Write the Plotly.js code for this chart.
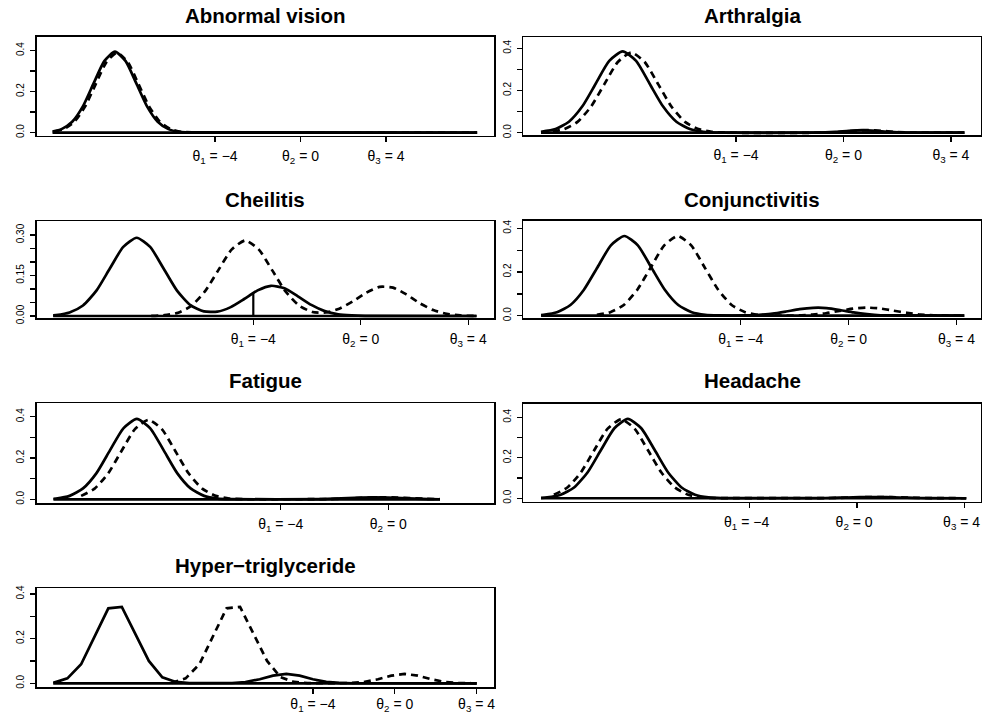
<!DOCTYPE html>
<html>
<head>
<meta charset="utf-8">
<script src="https://cdn.plot.ly/plotly-3.0.1.min.js"></script>
<style>
  html, body { margin: 0; padding: 0; background: #fff; }
  #chart { width: 982px; height: 714px; }
</style>
</head>
<body>
<div id="chart"></div>
<script>
// Panel titles
const panelTitles = ['Abnormal vision', 'Arthralgia', 'Cheilitis', 'Conjunctivitis',
                     'Fatigue', 'Headache', 'Hyper\u2212triglyceride'];

// Tick positions and labels on the latent scale
const thetaTickVals = [-4, 0, 4];
const thetaTickText = ['\u03b8<sub>1</sub> = \u22124', '\u03b8<sub>2</sub> = 0', '\u03b8<sub>3</sub> = 4'];
const densTickVals04 = [0, 0.2, 0.4];
const densTickText04 = ['0.0', '0.2', '0.4'];
const densMinorVals04 = [0.1, 0.3];
const densTickVals03 = [0, 0.15, 0.30];
const densTickText03 = ['0.00', '0.15', '0.30'];
const densMinorVals03 = [0.05, 0.10, 0.20, 0.25];

// Abnormal vision
const abnSolidX = [-11.6, -11.18, -10.68, -10.18, -9.68, -9.18, -8.68, -8.18, -7.68, -7.18, -6.68, -6.18, -5.68, -5.18, 8.26];
const abnSolidY = [0.005, 0.017, 0.053, 0.128, 0.240, 0.349, 0.395, 0.349, 0.240, 0.128, 0.053, 0.017, 0.004, 0.001, 0];
const abnDashX  = [-11.5, -11.08, -10.58, -10.08, -9.58, -9.08, -8.58, -8.08, -7.58, -7.08, -6.58, -6.08, -5.58, -5.08, 8.26];
const abnDashY  = [0.005, 0.017, 0.053, 0.127, 0.237, 0.344, 0.390, 0.344, 0.237, 0.127, 0.053, 0.017, 0.004, 0.001, 0];

// Arthralgia
const artSolidX = [-11.26, -10.72, -10.22, -9.72, -9.22, -8.72, -8.22, -7.72, -7.22, -6.72, -6.22, -5.72, -5.22, -4.5,
                   -1.0, -0.3, 0.2, 0.7, 1.2, 1.7, 2.4, 4.5];
const artSolidY = [0.004, 0.017, 0.052, 0.125, 0.233, 0.340, 0.385, 0.340, 0.233, 0.125, 0.052, 0.017, 0.004, 0,
                   0, 0.004, 0.009, 0.012, 0.009, 0.004, 0.0005, 0];
const artDashX  = [-11.26, -10.9, -10.4, -9.9, -9.4, -8.9, -8.4, -7.9, -7.4, -6.9, -6.4, -5.9, -5.4, -4.9, -4.2,
                   -0.8, -0.1, 0.4, 0.9, 1.4, 1.9, 2.6, 4.5];
const artDashY  = [0.001, 0.004, 0.017, 0.051, 0.123, 0.230, 0.335, 0.380, 0.335, 0.230, 0.123, 0.051, 0.017, 0.004, 0,
                   0, 0.004, 0.009, 0.012, 0.009, 0.004, 0.0005, 0];

// Cheilitis
const cheSolidX = [-11.45, -11.34, -10.84, -10.34, -9.84, -9.34, -8.84, -8.34, -7.84, -7.34, -6.84, -6.34, -5.84,
                   -5.34, -4.84, -4.34, -3.84, -3.34, -2.84, -2.34, -1.84, -1.34, -0.84, -0.34, 0.16, 4.31];
const cheSolidY = [0.002, 0.003, 0.013, 0.039, 0.094, 0.176, 0.256, 0.290, 0.256, 0.176, 0.094, 0.040, 0.017,
                   0.016, 0.033, 0.063, 0.095, 0.112, 0.103, 0.073, 0.041, 0.018, 0.006, 0.002, 0.0003, 0];
const cheDashX  = [-7.8, -7.3, -6.8, -6.3, -5.8, -5.3, -4.8, -4.3, -3.8, -3.3, -2.8, -2.3, -1.8, -1.3,
                   -0.8, -0.3, 0.2, 0.7, 1.2, 1.7, 2.2, 2.7, 3.2, 3.7, 4.31];
const cheDashY  = [0.0006, 0.003, 0.012, 0.038, 0.091, 0.170, 0.247, 0.280, 0.247, 0.170, 0.091, 0.039, 0.015, 0.013,
                   0.027, 0.054, 0.086, 0.108, 0.105, 0.080, 0.047, 0.022, 0.008, 0.002, 0];
const cheMarkX  = [-4, -4];
const cheMarkY  = [0, 0.085];

// Conjunctivitis
const conSolidX = [-11.41, -11.32, -10.82, -10.32, -9.82, -9.32, -8.82, -8.32, -7.82, -7.32, -6.82, -6.32, -5.82, -5.32,
                   -4.82, -4.32, -3.82, -3.32, -2.82, -2.32, -1.82, -1.32, -0.82, -0.32, 0.18, 0.68, 1.18, 1.68, 4.29];
const conSolidY = [0.003, 0.004, 0.016, 0.049, 0.119, 0.221, 0.322, 0.365, 0.322, 0.221, 0.119, 0.049, 0.016, 0.004,
                   0.001, 0.0003, 0.001, 0.004, 0.009, 0.019, 0.030, 0.036, 0.035, 0.026, 0.015, 0.007, 0.002, 0.001, 0];
const conDashX  = [-9.34, -8.84, -8.34, -7.84, -7.34, -6.84, -6.34, -5.84, -5.34, -4.84, -4.34, -3.84, -3.34,
                   -2.84, -2.34, -1.84, -1.34, -0.84, -0.34, 0.16, 0.66, 1.16, 1.66, 2.16, 2.66, 3.16, 3.66, 4.29];
const conDashY  = [0.004, 0.016, 0.049, 0.119, 0.221, 0.322, 0.365, 0.322, 0.221, 0.119, 0.049, 0.016, 0.004,
                   0.001, 0.0004, 0.001, 0.005, 0.011, 0.022, 0.032, 0.037, 0.033, 0.023, 0.013, 0.005, 0.002, 0.0005, 0];

// Fatigue
const fatSolidX = [-12.45, -12.35, -11.85, -11.35, -10.85, -10.35, -9.85, -9.35, -8.85, -8.35, -7.85, -7.35, -6.85, -6.35, -5.85,
                   -2.5, -2.0, -1.5, -1.0, -0.5, 0, 0.5, 1.0, 1.5, 1.92];
const fatSolidY = [0.003, 0.004, 0.017, 0.053, 0.127, 0.237, 0.344, 0.390, 0.344, 0.237, 0.127, 0.053, 0.017, 0.004, 0.001,
                   0.0014, 0.0032, 0.006, 0.0088, 0.010, 0.0088, 0.006, 0.0032, 0.0014, 0.0006];
const fatDashX  = [-11.42, -10.92, -10.42, -9.92, -9.42, -8.92, -8.42, -7.92, -7.42, -6.92, -6.42, -5.92, -5.42,
                   -2.2, -1.7, -1.2, -0.7, -0.2, 0.3, 0.8, 1.3, 1.92];
const fatDashY  = [0.017, 0.052, 0.125, 0.234, 0.340, 0.385, 0.340, 0.234, 0.125, 0.052, 0.017, 0.004, 0.001,
                   0.0014, 0.0032, 0.006, 0.0088, 0.010, 0.0088, 0.006, 0.0032, 0.001];

// Headache
const heaSolidX = [-11.76, -11.53, -11.03, -10.53, -10.03, -9.53, -9.03, -8.53, -8.03, -7.53, -7.03, -6.53, -6.03, -5.53, -5.03,
                   -1.4, -0.9, -0.4, 0.1, 0.6, 1.1, 1.6, 2.1, 2.6, 4.06];
const heaSolidY = [0.002, 0.004, 0.017, 0.053, 0.127, 0.238, 0.346, 0.392, 0.346, 0.238, 0.127, 0.053, 0.017, 0.004, 0.001,
                   0.0008, 0.0019, 0.0036, 0.0053, 0.006, 0.0053, 0.0036, 0.0019, 0.0008, 0];
const heaDashX  = [-11.28, -10.78, -10.28, -9.78, -9.28, -8.78, -8.28, -7.78, -7.28, -6.78, -6.28, -5.78, -5.28,
                   -1.2, -0.7, -0.2, 0.3, 0.8, 1.3, 1.8, 2.3, 2.8, 4.06];
const heaDashY  = [0.017, 0.053, 0.127, 0.237, 0.344, 0.390, 0.344, 0.237, 0.127, 0.053, 0.017, 0.004, 0.001,
                   0.0008, 0.0019, 0.0036, 0.0053, 0.006, 0.0053, 0.0036, 0.0019, 0.0008, 0];

// Hyper-triglyceride (coarse grid, drawn with straight segments)
const hypSolidX = [-16.69, -16.0, -15.33, -14.66, -14.0, -13.34, -12.68, -12.02, -11.36, -10.7, -10.04,
                   -8.6, -7.95, -7.3, -6.6, -5.95, -5.3, -4.65, -4.0, -3.35, -2.7, -2.05, 4.0];
const hypSolidY = [0.002, 0.022, 0.085, 0.215, 0.336, 0.342, 0.220, 0.100, 0.027, 0.006, 0.001,
                   0.0002, 0.0012, 0.0057, 0.018, 0.034, 0.042, 0.034, 0.018, 0.0063, 0.0014, 0.0002, 0];
const hypDashX  = [-10.91, -10.22, -9.55, -8.88, -8.22, -7.56, -6.9, -6.24, -5.58, -4.92, -4.26,
                   -2.82, -2.17, -1.52, -0.82, -0.17, 0.48, 1.13, 1.78, 2.43, 3.08, 3.73, 4.0];
const hypDashY  = [0.002, 0.022, 0.085, 0.215, 0.336, 0.342, 0.220, 0.100, 0.027, 0.006, 0.001,
                   0.0002, 0.0012, 0.0057, 0.018, 0.034, 0.042, 0.034, 0.018, 0.0063, 0.0014, 0.0002, 0];

// Per-panel frame geometry (pixels) and axis ranges
const W = 982, H = 714;
const panels = [
  { sx: abnSolidX, sy: abnSolidY, dx: abnDashX, dy: abnDashY, box: [36.5, 494, 36.7, 135.7], xr: [-12.35, 9.05], yr: [-0.015, 0.468], tv: densTickVals04, tt: densTickText04, mv: densMinorVals04, ty: 15.0, shape: 'spline', so: 2, sh: 0 },
  { sx: artSolidX, sy: artSolidY, dx: artDashX, dy: artDashY, box: [523, 981, 37.3, 135.0], xr: [-11.93, 5.12], yr: [-0.011, 0.452], tv: densTickVals04, tt: densTickText04, mv: densMinorVals04, ty: 15.0, shape: 'spline', so: 2, sh: 0 },
  { sx: cheSolidX, sy: cheSolidY, dx: cheDashX, dy: cheDashY, box: [36.5, 494, 221.0, 318.3], xr: [-12.07, 4.96], yr: [-0.0085, 0.352], tv: densTickVals03, tt: densTickText03, mv: densMinorVals03, ty: 199.2, shape: 'spline', so: 2, sh: 0 },
  { sx: conSolidX, sy: conSolidY, dx: conDashX, dy: conDashY, box: [523, 981, 220.7, 318.3], xr: [-12.08, 4.91], yr: [-0.012, 0.435], tv: densTickVals04, tt: densTickText04, mv: densMinorVals04, ty: 199.2, shape: 'spline', so: 2, sh: 0 },
  { sx: fatSolidX, sy: fatSolidY, dx: fatDashX, dy: fatDashY, box: [36.5, 494, 403.3, 503.3], xr: [-13.08, 3.93], yr: [-0.019, 0.465], tv: densTickVals04, tt: densTickText04, mv: densMinorVals04, ty: 380.0, shape: 'spline', so: 2, sh: 0 },
  { sx: heaSolidX, sy: heaSolidY, dx: heaDashX, dy: heaDashY, box: [523, 981, 403.5, 501.7], xr: [-12.43, 4.61], yr: [-0.017, 0.468], tv: densTickVals04, tt: densTickText04, mv: densMinorVals04, ty: 380.5, shape: 'spline', so: 2, sh: -3 },
  { sx: hypSolidX, sy: hypSolidY, dx: hypDashX, dy: hypDashY, box: [36.5, 494, 588.3, 687.3], xr: [-17.51, 4.85], yr: [-0.018, 0.4256], tv: densTickVals04, tt: densTickText04, mv: densMinorVals04, ty: 565.8, shape: 'linear', so: -2, sh: 0 }
];

const FONT = '"Liberation Sans", Arial, Helvetica, sans-serif';
const INK = '#000';
const traces = [];
const layout = {
  width: W, height: H,
  margin: { l: 0, r: 0, t: 0, b: 0 },
  paper_bgcolor: '#fff', plot_bgcolor: '#fff',
  showlegend: false,
  font: { family: FONT, color: INK },
  annotations: []
};

panels.forEach((p, i) => {
  const n = i + 1;
  const xa = n === 1 ? 'x' : 'x' + n;
  const ya = n === 1 ? 'y' : 'y' + n;
  // zero line spanning the evaluation grid
  const gridEnds = [p.sx[0], p.sx[p.sx.length - 1]];
  traces.push({ x: gridEnds, y: [0, 0], xaxis: xa, yaxis: ya, type: 'scatter', mode: 'lines',
                line: { color: INK, width: 2.7 }, hoverinfo: 'skip' });
  traces.push({ x: p.sx, y: p.sy, xaxis: xa, yaxis: ya, type: 'scatter', mode: 'lines',
                line: { color: INK, width: 2.7, shape: p.shape, smoothing: 0.6 }, hoverinfo: 'skip' });
  traces.push({ x: p.dx, y: p.dy, xaxis: xa, yaxis: ya, type: 'scatter', mode: 'lines',
                line: { color: INK, width: 2.7, dash: '7px,5px', shape: p.shape, smoothing: 0.6 }, hoverinfo: 'skip' });
  if (n === 3) {
    traces.push({ x: cheMarkX, y: cheMarkY, xaxis: xa, yaxis: ya, type: 'scatter', mode: 'lines',
                  line: { color: INK, width: 2.2 }, hoverinfo: 'skip' });
  }
  const [l, r, t, b] = p.box;
  layout['xaxis' + (n === 1 ? '' : n)] = {
    domain: [l / W, r / W], range: p.xr, anchor: ya,
    tickmode: 'array', tickvals: thetaTickVals, ticktext: thetaTickText,
    ticks: 'outside', ticklen: 5, tickwidth: 1.3, tickcolor: INK,
    showline: true, mirror: true, linecolor: INK, linewidth: 1.5,
    showgrid: false, zeroline: false, fixedrange: true,
    tickfont: { family: FONT, size: 14, color: INK },
    ticklabelstandoff: p.so, ticklabelshift: p.sh, ticklabeloverflow: 'allow'
  };
  layout['yaxis' + (n === 1 ? '' : n)] = {
    domain: [1 - b / H, 1 - t / H], range: p.yr, anchor: xa,
    tickmode: 'array', tickvals: p.tv, ticktext: p.tt, tickangle: -90,
    ticks: 'outside', ticklen: 5, tickwidth: 1.3, tickcolor: INK,
    minor: { tickmode: 'array', tickvals: p.mv, ticks: 'outside', ticklen: 5, tickwidth: 1.3, tickcolor: INK, showgrid: false },
    showline: true, mirror: true, linecolor: INK, linewidth: 1.5,
    showgrid: false, zeroline: false, fixedrange: true,
    tickfont: { family: FONT, size: 10, color: INK }, ticklabelstandoff: 2
  };
  layout.annotations.push({
    text: '<b>' + panelTitles[i] + '</b>', showarrow: false,
    xref: 'paper', yref: 'paper', x: (l + r) / 2 / W, y: 1 - p.ty / H,
    xanchor: 'center', yanchor: 'middle',
    font: { family: FONT, size: 20.5, color: INK }
  });
});

Plotly.newPlot('chart', traces, layout, { displayModeBar: false, staticPlot: true });
</script>
</body>
</html>
